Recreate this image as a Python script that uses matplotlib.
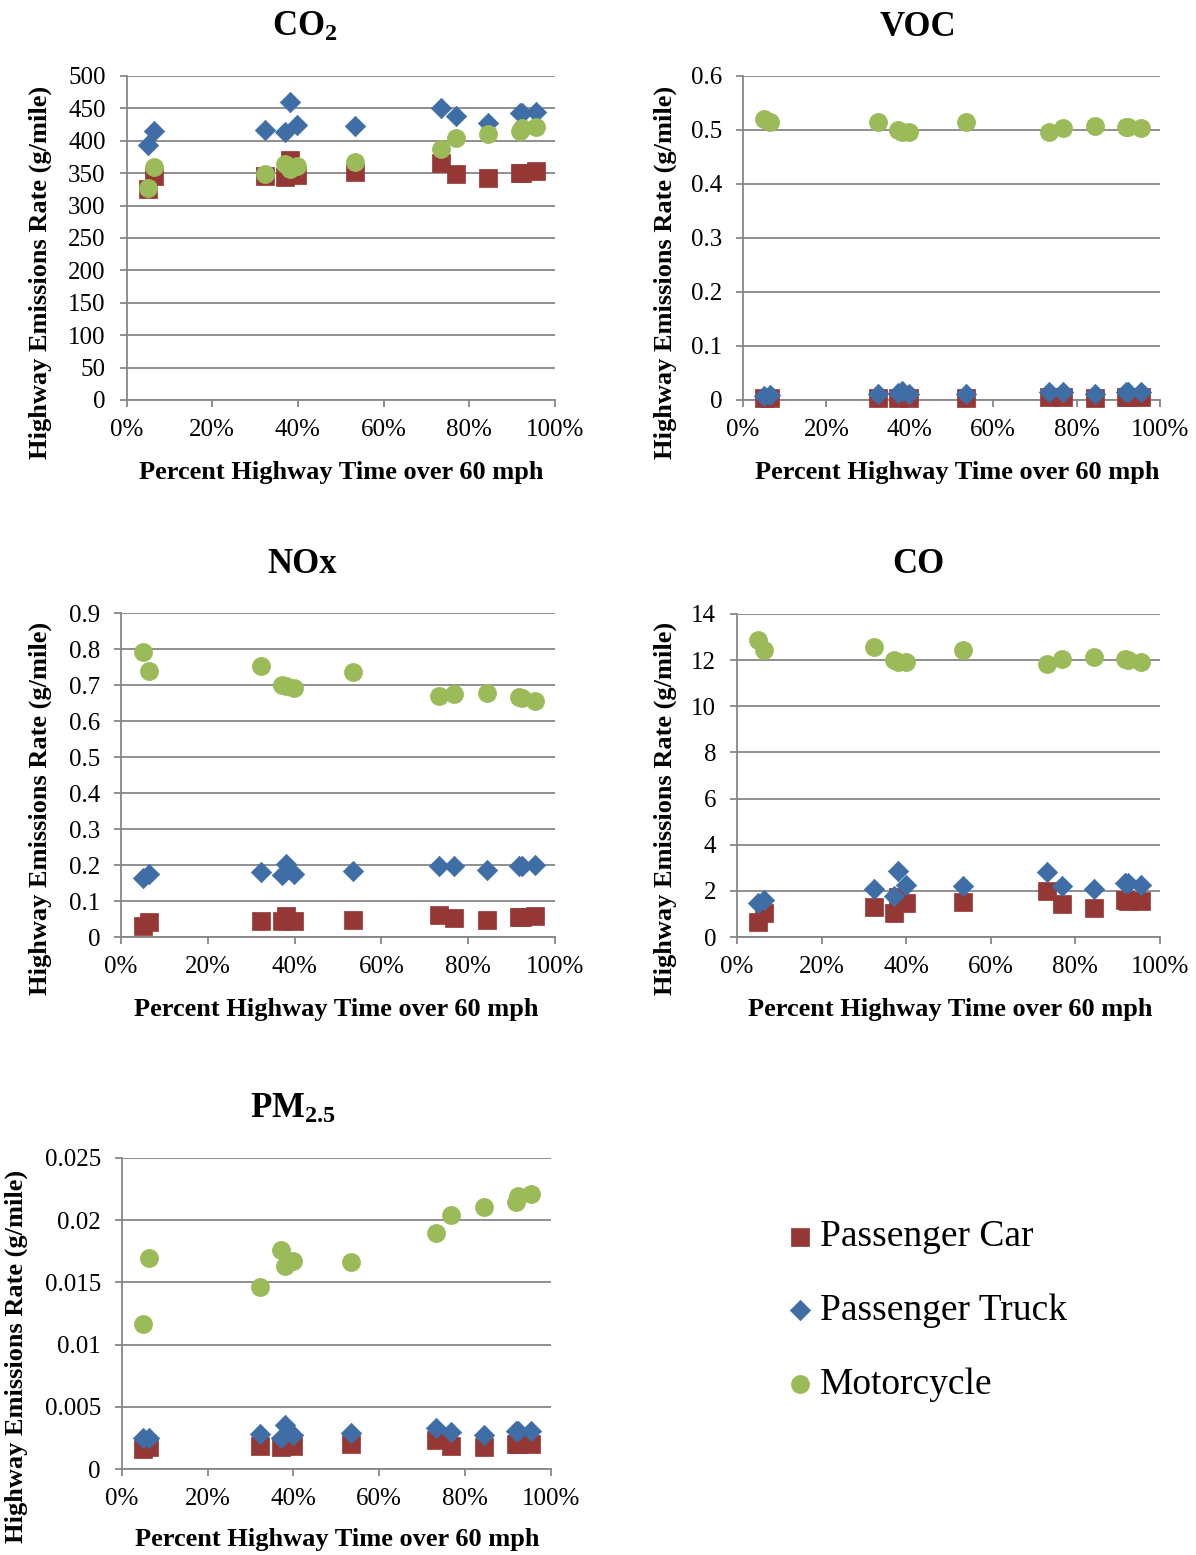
import numpy as np
import matplotlib
matplotlib.use('Agg')
import matplotlib.pyplot as plt
from matplotlib.ticker import FuncFormatter, MultipleLocator

plt.rcParams['font.family'] = ['Liberation Serif', 'DejaVu Serif']
plt.rcParams['mathtext.fontset'] = 'custom'
plt.rcParams['mathtext.rm'] = 'Liberation Serif'
plt.rcParams['mathtext.bf'] = 'Liberation Serif:bold'

# percent of highway time over 60 mph (x, as fraction)
pct = np.array([5.0, 6.4, 32.3, 37.1, 38.1, 39.9, 53.4, 73.3, 76.8, 84.4, 91.8, 92.4, 95.5]) / 100

# emission rates, g/mile
co2_car   = [326, 346, 346, 344, 370, 347, 352, 366, 349, 343, 351, 351, 353]
co2_truck = [394, 415, 417, 414, 460, 424, 423, 451, 439, 428, 443, 443, 444]
co2_moto  = [327, 359, 348, 364, 356, 361, 367, 387, 404, 411, 415, 419, 421]

voc_car   = [0.004, 0.004, 0.004, 0.004, 0.005, 0.004, 0.004, 0.006, 0.006, 0.004, 0.005, 0.005, 0.005]
voc_truck = [0.007, 0.010, 0.012, 0.013, 0.017, 0.012, 0.012, 0.015, 0.015, 0.012, 0.015, 0.015, 0.015]
voc_moto  = [0.520, 0.514, 0.515, 0.500, 0.497, 0.497, 0.514, 0.497, 0.504, 0.508, 0.506, 0.506, 0.503]

nox_car   = [0.031, 0.042, 0.044, 0.044, 0.058, 0.044, 0.047, 0.062, 0.053, 0.047, 0.056, 0.056, 0.058]
nox_truck = [0.164, 0.174, 0.181, 0.172, 0.204, 0.174, 0.183, 0.198, 0.196, 0.186, 0.198, 0.198, 0.200]
nox_moto  = [0.792, 0.739, 0.754, 0.700, 0.698, 0.693, 0.736, 0.670, 0.676, 0.677, 0.668, 0.663, 0.656]

co_car   = [0.64, 1.03, 1.29, 1.03, 1.75, 1.46, 1.51, 2.00, 1.42, 1.25, 1.60, 1.55, 1.58]
co_truck = [1.49, 1.60, 2.07, 1.77, 2.84, 2.26, 2.19, 2.80, 2.22, 2.06, 2.36, 2.36, 2.26]
co_moto  = [12.86, 12.42, 12.55, 12.00, 11.93, 11.91, 12.45, 11.83, 12.03, 12.12, 12.04, 12.00, 11.93]

pm_car   = [0.0016, 0.00174, 0.00187, 0.0018, 0.0021, 0.00187, 0.0020, 0.00235, 0.00187, 0.00174, 0.0020, 0.0020, 0.0020]
pm_truck = [0.00249, 0.00251, 0.00281, 0.00251, 0.00353, 0.00275, 0.00286, 0.00326, 0.00294, 0.00275, 0.00302, 0.00302, 0.00302]
pm_moto  = [0.01168, 0.01695, 0.01465, 0.01759, 0.01631, 0.01671, 0.01668, 0.01901, 0.02043, 0.02104, 0.02147, 0.02193, 0.02214]

series_names = ['Passenger Car', 'Passenger Truck', 'Motorcycle']
colors = ['#953735', '#3F6EA6', '#9BBB59']
markers = ['s', 'D', 'o']
sizes = [185, 108, 170]

W, H = 1196, 1555
fig = plt.figure(figsize=(W / 100, H / 100), dpi=100)
grid_c = '#878787'

# (title, data, ymax, ystep, axes box px [left,right,top,bottom], title xy, ylabel xy, xlabel xy)
panels = [
    (r'$\mathbf{CO_2}$', (co2_car, co2_truck, co2_moto), 500, 50,
     (126.5, 555, 76, 400), (305, 36), (40, 272), (341, 479)),
    ('VOC', (voc_car, voc_truck, voc_moto), 0.6, 0.1,
     (743, 1160, 76, 400), (918, 36), (665, 272), (957, 479)),
    ('NOx', (nox_car, nox_truck, nox_moto), 0.9, 0.1,
     (121, 555, 613, 937), (302, 573), (40, 808), (336, 1016)),
    ('CO', (co_car, co_truck, co_moto), 14, 2,
     (737, 1160, 614, 937), (918, 573), (665, 808), (950, 1016)),
    (r'$\mathbf{PM_{2.5}}$', (pm_car, pm_truck, pm_moto), 0.025, 0.005,
     (121.7, 550.7, 1158, 1469), (293, 1118), (16, 1356), (337, 1546)),
]

handles = []
for title, data, ymax, ystep, box, txy, yxy, xxy in panels:
    l, r, t, b = box
    ax = fig.add_axes([l / W, 1 - b / H, (r - l) / W, (b - t) / H])
    for i in range(3):
        sc = ax.scatter(pct, data[i], marker=markers[i], s=sizes[i], color=colors[i],
                        edgecolors=colors[i], linewidths=0.5, zorder=3 + i, clip_on=False)
        if len(handles) < 3:
            handles.append(sc)
    ax.set_xlim(0, 1)
    ax.set_ylim(0, ymax)
    ax.xaxis.set_major_locator(MultipleLocator(0.2))
    ax.yaxis.set_major_locator(MultipleLocator(ystep))
    ax.xaxis.set_major_formatter(FuncFormatter(lambda v, p: f'{round(v * 100):d}%'))
    ax.yaxis.set_major_formatter(FuncFormatter(lambda v, p: f'{round(v, 6):g}'))
    ax.grid(axis='y', color=grid_c, lw=1.3, zorder=1)
    ax.set_axisbelow(True)
    for s in ['top', 'right']:
        ax.spines[s].set_visible(False)
    for s in ['left', 'bottom']:
        ax.spines[s].set_color(grid_c)
        ax.spines[s].set_linewidth(1.3)
    ax.tick_params(axis='both', direction='out', length=5, width=1.3, color=grid_c,
                   labelsize=18, pad=10)
    ax.tick_params(axis='x', pad=9)
    fig.text(txy[0] / W, 1 - txy[1] / H, title, fontsize=25, fontweight='bold',
             ha='center', va='baseline')
    fig.text(yxy[0] / W, 1 - yxy[1] / H, 'Highway Emissions Rate (g/mile)', fontsize=19,
             fontweight='bold', rotation=90, ha='center', va='center')
    fig.text(xxy[0] / W, 1 - xxy[1] / H, 'Percent Highway Time over 60 mph', fontsize=19,
             fontweight='bold', ha='center', va='baseline')

fig.legend(handles, series_names, loc='center left', bbox_to_anchor=(789 / W, 1 - 1311 / H),
           frameon=False, fontsize=27, labelspacing=1.05, handlelength=0.58,
           handletextpad=0.25, borderpad=0, borderaxespad=0, scatterpoints=1)

fig.savefig('out.png', dpi=100)
